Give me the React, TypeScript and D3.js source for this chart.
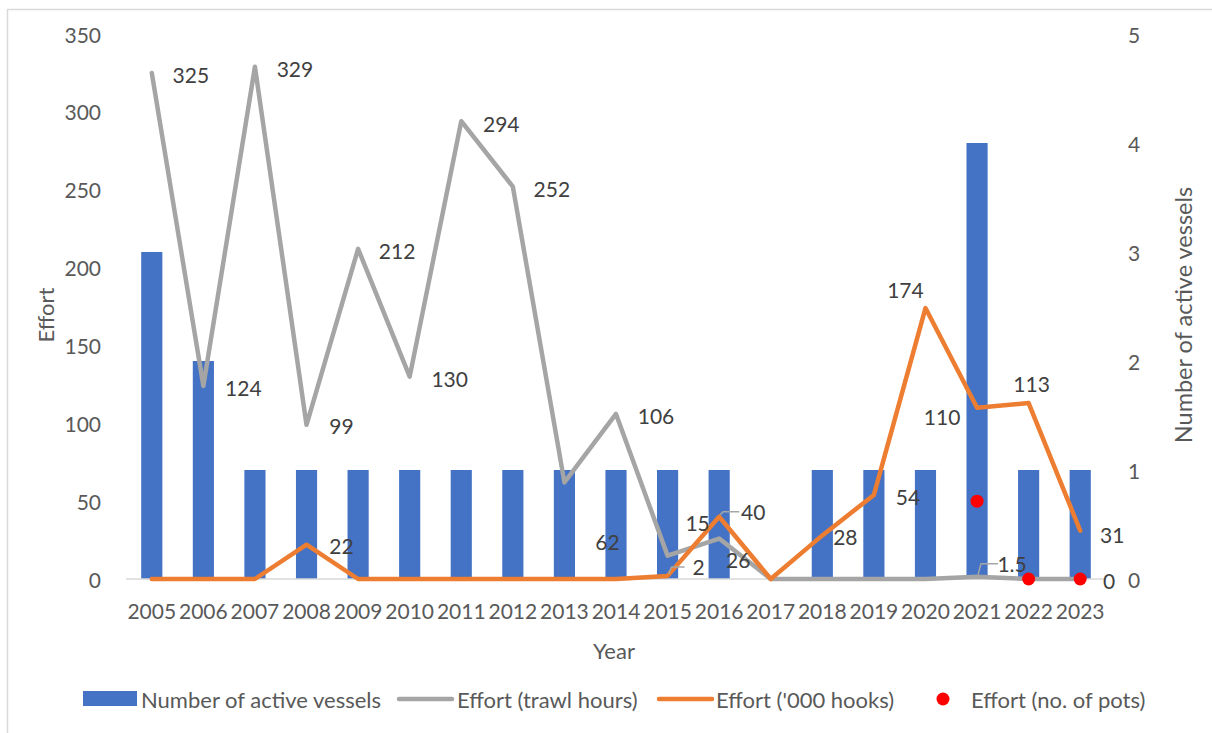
import React from "react";
import * as d3 from "d3";

const years = [2005, 2006, 2007, 2008, 2009, 2010, 2011, 2012, 2013, 2014, 2015, 2016, 2017, 2018, 2019, 2020, 2021, 2022, 2023];
const vessels = [3, 2, 1, 1, 1, 1, 1, 1, 1, 1, 1, 1, 0, 1, 1, 1, 4, 1, 1];
const trawlHours = [325, 124, 329, 99, 212, 130, 294, 252, 62, 106, 15, 26, 0, 0, 0, 0, 1.5, 0, 0];
const hooks = [0, 0, 0, 22, 0, 0, 0, 0, 0, 0, 2, 40, 0, 28, 54, 174, 110, 113, 31];
const potYears = [2021, 2022, 2023];
const pots = [50, 0, 0];
const leftTicks = [0, 50, 100, 150, 200, 250, 300, 350];
const rightTicks = [0, 1, 2, 3, 4, 5];

// label layout: [year, text, dx, dy, leader]
const trawlLabels: [number, string, number, number, boolean][] = [
  [2005, "325", 39, 2, false],
  [2006, "124", 40, 2, false],
  [2007, "329", 40, 2, false],
  [2008, "99", 35, 1, false],
  [2009, "212", 39, 2, false],
  [2010, "130", 40, 2, false],
  [2011, "294", 40, 2, false],
  [2012, "252", 39, 2, false],
  [2013, "62", 43, 59, false],
  [2014, "106", 40, 2, false],
  [2015, "15", 30, -33, false],
  [2016, "26", 19, 21, false],
  [2021, "1.5", 35, -13, true],
  [2023, "0", 29, 1, false],
];
const hookLabels: [number, string, number, number, boolean][] = [
  [2008, "22", 35, 1, false],
  [2015, "2", 31, -9, true],
  [2016, "40", 34, -5, true],
  [2018, "28", 23, 1, false],
  [2019, "54", 34, 2, false],
  [2020, "174", -20, -19, false],
  [2021, "110", -35, 9, false],
  [2022, "113", 3, -20, false],
  [2023, "31", 32, 4, false],
];

const W = 1212;
const H = 733;
const FONT = "Lato, 'Open Sans', sans-serif";
const TXT = "#595959";
const BLUE = "#4472C4";
const GRAY = "#A5A5A5";
const ORANGE = "#ED7D31";
const RED = "#FF0000";
const FS = 21;

export default function App() {
  const x = d3.scaleBand<number>().domain(years).range([126, 1106]).padding(0);
  const cx = (yr: number) => (x(yr) as number) + x.bandwidth() / 2;
  const yL = d3.scaleLinear().domain([0, 350]).range([579, 34]);
  const yR = d3.scaleLinear().domain([0, 5]).range([579, 34]);
  const barW = x.bandwidth() * 0.41;

  const line = d3
    .line<number>()
    .x((_, i) => cx(years[i]))
    .y((d) => yL(d));

  const trawlPath = line(trawlHours) || "";
  const hookPath = line(hooks) || "";

  const renderLabels = (labels: [number, string, number, number, boolean][], vals: number[]) =>
    labels.map(([yr, t, dx, dy, leader]) => {
      const i = years.indexOf(yr);
      const px = cx(yr);
      const py = yL(vals[i]);
      const lx = px + dx;
      const ly = py + dy;
      return (
        <g key={yr + t}>
          {leader && (
            <polyline
              points={`${px + 1},${py - 2} ${px + 4},${ly} ${lx - 14},${ly}`}
              fill="none"
              stroke="#A6A6A6"
              strokeWidth={1.5}
            />
          )}
          <text x={lx} y={ly} textAnchor="middle" dominantBaseline="central" fontSize={FS} fill="#404040">
            {t}
          </text>
        </g>
      );
    });

  return (
    <svg width={W} height={H} style={{ position: "absolute", left: 0, top: 0, fontFamily: FONT }}>
      <rect x={0} y={0} width={W} height={H} fill="#fff" />
      <rect x={7.5} y={9.5} width={W} height={H} fill="none" stroke="#D9D9D9" strokeWidth={1.5} />

      {/* bars */}
      {years.map((yr, i) => (
        <rect key={yr} x={cx(yr) - barW / 2} y={yR(vessels[i])} width={barW} height={yR(0) - yR(vessels[i])} fill={BLUE} />
      ))}

      {/* axis baseline */}
      <line x1={126} x2={1106} y1={yL(0)} y2={yL(0)} stroke="#D9D9D9" strokeWidth={1.5} />

      {/* left ticks */}
      {leftTicks.map((t) => (
        <text key={t} x={101} y={yL(t)} textAnchor="end" dominantBaseline="central" fontSize={FS} fill={TXT}>
          {t}
        </text>
      ))}
      {/* right ticks */}
      {rightTicks.map((t) => (
        <text key={t} x={1128} y={yR(t)} textAnchor="start" dominantBaseline="central" fontSize={FS} fill={TXT}>
          {t}
        </text>
      ))}
      {/* x ticks */}
      {years.map((yr) => (
        <text key={yr} x={cx(yr)} y={610} textAnchor="middle" dominantBaseline="central" fontSize={FS} fill={TXT}>
          {yr}
        </text>
      ))}

      {/* titles */}
      <text x={614} y={650} textAnchor="middle" dominantBaseline="central" fontSize={22} fill={TXT}>
        Year
      </text>
      <text transform="translate(45,315) rotate(-90)" textAnchor="middle" dominantBaseline="central" fontSize={22} fill={TXT}>
        Effort
      </text>
      <text transform="translate(1183,315) rotate(-90)" textAnchor="middle" dominantBaseline="central" fontSize={23.5} fill={TXT}>
        Number of active vessels
      </text>

      {/* lines */}
      <path d={trawlPath} fill="none" stroke={GRAY} strokeWidth={4.5} strokeLinejoin="round" strokeLinecap="round" />
      <path d={hookPath} fill="none" stroke={ORANGE} strokeWidth={4.5} strokeLinejoin="round" strokeLinecap="round" />

      {/* pots */}
      {potYears.map((yr, i) => (
        <circle key={yr} cx={cx(yr)} cy={yL(pots[i])} r={6.5} fill={RED} />
      ))}

      {/* data labels */}
      {renderLabels(trawlLabels, trawlHours)}
      {renderLabels(hookLabels, hooks)}

      {/* legend */}
      <g fontSize={22} fill={TXT}>
        <rect x={83} y={691} width={54} height={15} fill={BLUE} />
        <text x={141} y={699} dominantBaseline="central">Number of active vessels</text>
        <line x1={399} x2={452} y1={699} y2={699} stroke={GRAY} strokeWidth={4.5} strokeLinecap="round" />
        <text x={457} y={699} dominantBaseline="central">Effort (trawl hours)</text>
        <line x1={659} x2={712} y1={699} y2={699} stroke={ORANGE} strokeWidth={4.5} strokeLinecap="round" />
        <text x={716} y={699} dominantBaseline="central">Effort ('000 hooks)</text>
        <circle cx={943} cy={699} r={6.5} fill={RED} />
        <text x={971} y={699} dominantBaseline="central">Effort (no. of pots)</text>
      </g>
    </svg>
  );
}
